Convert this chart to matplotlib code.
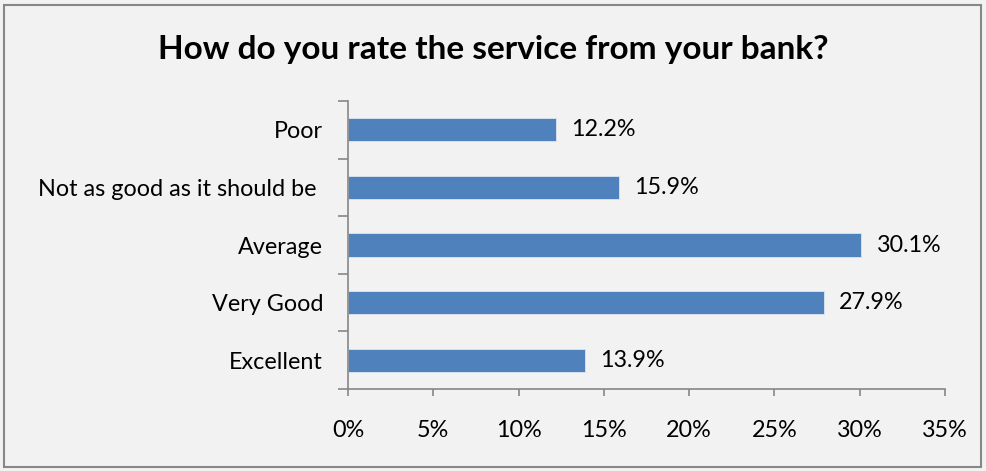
import matplotlib
matplotlib.use("Agg")
import matplotlib.pyplot as plt
from matplotlib.patches import Rectangle
from matplotlib.ticker import FuncFormatter, FixedLocator

categories = ["Excellent", "Very Good", "Average", "Not as good as it should be ", "Poor"]
values = [13.9, 27.9, 30.1, 15.9, 12.2]
xticks = [0, 5, 10, 15, 20, 25, 30, 35]
title = "How do you rate the service from your bank?"

plt.rcParams['font.family'] = ['Lato', 'DejaVu Sans']

fig = plt.figure(figsize=(9.86, 4.71), dpi=100)
bg = "#f2f2f2"
fig.patch.set_facecolor(bg)
fig.patches.append(Rectangle((4/986, 4/471), 1 - 9/986, 1 - 9/471, transform=fig.transFigure,
                             fill=False, edgecolor="#878787", linewidth=1.5))

ax = fig.add_axes([348/986, (471-389)/471, (945-348)/986, (389-101)/471])
ax.set_facecolor(bg)
ypos = list(range(len(categories)))
ax.barh(ypos, values, height=0.4, color="#4f81bd", edgecolor="#dce6f2", linewidth=0.6)
for y, v in zip(ypos, values):
    ax.text(v + 0.9, y, f"{v:.1f}%", va="center", ha="left", fontsize=16.8, color="black")

ax.set_xlim(0, 35)
ax.set_ylim(-0.5, len(categories) - 0.5)
ax.set_xticks(xticks)
ax.xaxis.set_major_formatter(FuncFormatter(lambda x, p: f"{x:.0f}%"))
ax.yaxis.set_major_locator(FixedLocator([i - 0.5 for i in range(len(categories) + 1)]))
ax.yaxis.set_ticklabels([])
ax.yaxis.set_minor_locator(FixedLocator(ypos))
ax.yaxis.set_ticklabels(categories, minor=True)
ax.tick_params(axis='y', which='minor', length=0, pad=18, labelsize=16.8)
ax.tick_params(axis='y', which='major', length=7, width=1.2, color="#868686", direction='out')
ax.tick_params(axis='x', which='major', length=5, width=1.2, color="#868686", direction='out',
               pad=17, labelsize=16.8)
for s in ['top', 'right']:
    ax.spines[s].set_visible(False)
for s in ['left', 'bottom']:
    ax.spines[s].set_color("#868686")
    ax.spines[s].set_linewidth(1.2)

fig.text(0.5, (471-50)/471, title, ha="center", va="center", fontsize=24, fontweight="bold")

fig.savefig("out.png", dpi=100, facecolor=bg)
